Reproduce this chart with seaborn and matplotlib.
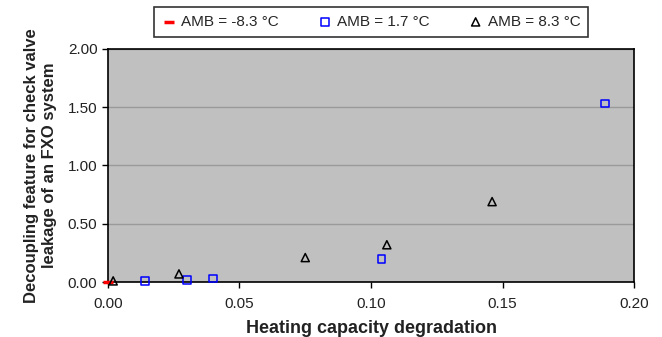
import matplotlib
matplotlib.use("Agg")
import matplotlib.pyplot as plt
import pandas as pd
import seaborn as sns

# values
x_cold = [0.0]
y_cold = [0.0]
x_mild = [0.014, 0.030, 0.040, 0.104, 0.189]
y_mild = [0.01, 0.02, 0.03, 0.20, 1.53]
x_warm = [0.002, 0.027, 0.075, 0.106, 0.146]
y_warm = [0.01, 0.07, 0.21, 0.32, 0.69]
labels = ["AMB = -8.3 °C", "AMB = 1.7 °C", "AMB = 8.3 °C"]
x_ticks = [0.00, 0.05, 0.10, 0.15, 0.20]
y_ticks = [0.00, 0.50, 1.00, 1.50, 2.00]

sns.set_theme(style="white")
plt.rcParams["font.family"] = ["Liberation Sans", "DejaVu Sans"]

fig = plt.figure(figsize=(6.62, 3.37), dpi=100)
ax = fig.add_axes([0.163, 0.163, 0.795, 0.692])
ax.set_facecolor("#c0c0c0")

df_cold = pd.DataFrame({"x": x_cold, "y": y_cold})
df_mild = pd.DataFrame({"x": x_mild, "y": y_mild})
df_warm = pd.DataFrame({"x": x_warm, "y": y_warm})

sns.scatterplot(data=df_cold, x="x", y="y", ax=ax, marker="_", s=60,
                color="red", linewidth=2.5, label=labels[0], zorder=4,
                clip_on=False)
sns.scatterplot(data=df_mild, x="x", y="y", ax=ax, marker="s", s=30,
                facecolor="none", edgecolor="blue", linewidth=1.1,
                label=labels[1], zorder=4, clip_on=False)
sns.scatterplot(data=df_warm, x="x", y="y", ax=ax, marker="^", s=34,
                facecolor="none", edgecolor="black", linewidth=1.1,
                label=labels[2], zorder=4, clip_on=False)

ax.set_xlim(0, 0.20)
ax.set_ylim(0, 2.0)
ax.set_xticks(x_ticks)
ax.set_yticks(y_ticks)
ax.set_xticklabels([f"{v:.2f}" for v in x_ticks])
ax.set_yticklabels([f"{v:.2f}" for v in y_ticks])
ax.yaxis.grid(True, color="#9a9a9a", linewidth=1)
ax.set_axisbelow(True)
ax.tick_params(axis="both", direction="out", length=4, width=1,
               colors="black", labelsize=11, labelcolor="#222222",
               bottom=True, left=True)
ax.tick_params(axis="x", pad=7)
for sp in ax.spines.values():
    sp.set_color("black")
    sp.set_linewidth(1.2)

ax.set_xlabel("Heating capacity degradation", fontsize=13,
              fontweight="bold", color="#222222", labelpad=6)
ax.set_ylabel("Decoupling feature for check valve\nleakage of an FXO system",
              fontsize=12, fontweight="bold", color="#222222", labelpad=8)

leg = ax.legend(loc="lower center", bbox_to_anchor=(0.5, 1.02), ncol=3,
                frameon=True, fontsize=11, fancybox=False,
                columnspacing=2.5, handletextpad=0.3, borderpad=0.5,
                handlelength=1.0)
leg.get_frame().set_edgecolor("black")
leg.get_frame().set_linewidth(1.2)

fig.savefig("out.png", dpi=100)
